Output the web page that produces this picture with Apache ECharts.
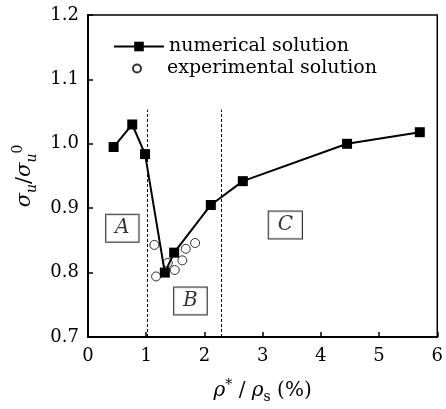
<!DOCTYPE html>
<html><head><meta charset="utf-8">
<script src="https://cdn.jsdelivr.net/npm/echarts@6/dist/echarts.min.js"></script>
<style>html,body{margin:0;padding:0;background:#fff}#c{width:446px;height:409px}</style>
</head><body><div id="c"></div>
<script>
const numX = [0.44, 0.76, 0.98, 1.32, 1.48, 2.11, 2.66, 4.45, 5.70];
const numY = [0.995, 1.030, 0.984, 0.800, 0.831, 0.905, 0.942, 1.000, 1.018];
const expX = [1.14, 1.17, 1.37, 1.49, 1.62, 1.68, 1.84];
const expY = [0.843, 0.794, 0.815, 0.804, 0.819, 0.837, 0.846];
const regionLines = [1.02, 2.29];
const regionTop = 1.053;
const regionNames = ['A', 'B', 'C'];
const regionX = [0.59, 1.76, 3.39];
const regionY = [0.869, 0.756, 0.874];
const xTicks = [0, 1, 2, 3, 4, 5, 6];

const FONT = 'DejaVu Serif';
const chart = echarts.init(document.getElementById('c'));
const numData = numX.map((x, i) => [x, numY[i]]);
const expData = expX.map((x, i) => [x, expY[i]]);
const boxData = regionNames.map((n, i) => ({ value: [regionX[i], regionY[i]], name: n }));
const vlines = regionLines.map(x => [{ coord: [x, 0.7] }, { coord: [x, regionTop] }]);
const legendText = { fontFamily: FONT, fontSize: 19, color: '#000' };

chart.setOption({
  animation: false,
  backgroundColor: '#fff',
  grid: { left: 88, right: 2, top: 15, bottom: 65, show: true, borderColor: '#000', borderWidth: 1.5 },
  legend: [
    {
      left: 113, top: 37, padding: 0, itemWidth: 50, itemHeight: 12,
      textStyle: legendText, data: ['numerical solution']
    },
    {
      left: 132, top: 59, padding: 0, itemWidth: 50, itemHeight: 8,
      textStyle: legendText, data: ['experimental solution']
    }
  ],
  xAxis: {
    type: 'value', min: 0, max: 6, interval: 1,
    axisLine: { show: true, lineStyle: { color: '#000', width: 2 } },
    axisTick: { inside: true, length: 5, lineStyle: { color: '#000', width: 1.5 } },
    axisLabel: { fontFamily: FONT, fontSize: 18, color: '#000', margin: 10, formatter: v => String(xTicks[v] !== undefined ? xTicks[v] : v) },
    splitLine: { show: false },
    name: '{i|ρ}{n|*}{s| / }{i|ρ}{sub|s}{s| (%)}',
    nameLocation: 'middle', nameGap: 41,
    nameTextStyle: {
      rich: {
        i: { fontFamily: FONT, fontStyle: 'italic', fontSize: 20, color: '#000', lineHeight: 26 },
        n: { fontFamily: FONT, fontSize: 14, color: '#000', lineHeight: 26, verticalAlign: 'top' },
        s: { fontFamily: FONT, fontSize: 20, color: '#000', lineHeight: 26 },
        sub: { fontFamily: FONT, fontSize: 14, color: '#000', lineHeight: 26, verticalAlign: 'bottom' }
      }
    }
  },
  yAxis: {
    type: 'value', min: 0.7, max: 1.2, interval: 0.1,
    axisLine: { show: true, lineStyle: { color: '#000', width: 2 } },
    axisTick: { inside: true, length: 5, lineStyle: { color: '#000', width: 1.5 } },
    axisLabel: { fontFamily: FONT, fontSize: 18, color: '#000', margin: 9, formatter: v => v.toFixed(1) },
    splitLine: { show: false },
    name: '{i|σ}{sub|u}{s|/}{i|σ}{sub|u}{sup|0}',
    nameLocation: 'middle', nameGap: 49, nameRotate: 90,
    nameTextStyle: {
      rich: {
        i: { fontFamily: FONT, fontStyle: 'italic', fontSize: 21, color: '#000', lineHeight: 28 },
        s: { fontFamily: FONT, fontSize: 21, color: '#000', lineHeight: 28 },
        sub: { fontFamily: FONT, fontStyle: 'italic', fontSize: 14, color: '#000', lineHeight: 28, verticalAlign: 'bottom' },
        sup: { fontFamily: FONT, fontSize: 14, color: '#000', lineHeight: 28, verticalAlign: 'top' }
      }
    }
  },
  series: [
    {
      name: 'experimental solution', type: 'scatter', data: expData,
      symbol: 'circle', symbolSize: 9,
      itemStyle: { color: '#fff', borderColor: '#000', borderWidth: 1 },
      z: 2
    },
    {
      name: 'numerical solution', type: 'line', data: numData,
      symbol: 'rect', symbolSize: 10, showSymbol: true,
      lineStyle: { color: '#000', width: 2 },
      itemStyle: { color: '#000', borderColor: '#000', borderWidth: 0 },
      z: 3
    },
    {
      name: 'regions', type: 'scatter', data: boxData, symbolSize: 0, silent: true,
      label: {
        show: true, position: 'inside', formatter: p => p.name,
        fontFamily: FONT, fontStyle: 'italic', fontSize: 20, color: '#000',
        borderColor: '#000', borderWidth: 1, padding: [4, 9, 3, 9], backgroundColor: '#fff'
      },
      markLine: {
        silent: true, symbol: 'none', label: { show: false },
        lineStyle: { color: '#000', type: [3, 2], width: 1 },
        data: vlines
      },
      z: 1
    }
  ]
});
</script></body></html>
